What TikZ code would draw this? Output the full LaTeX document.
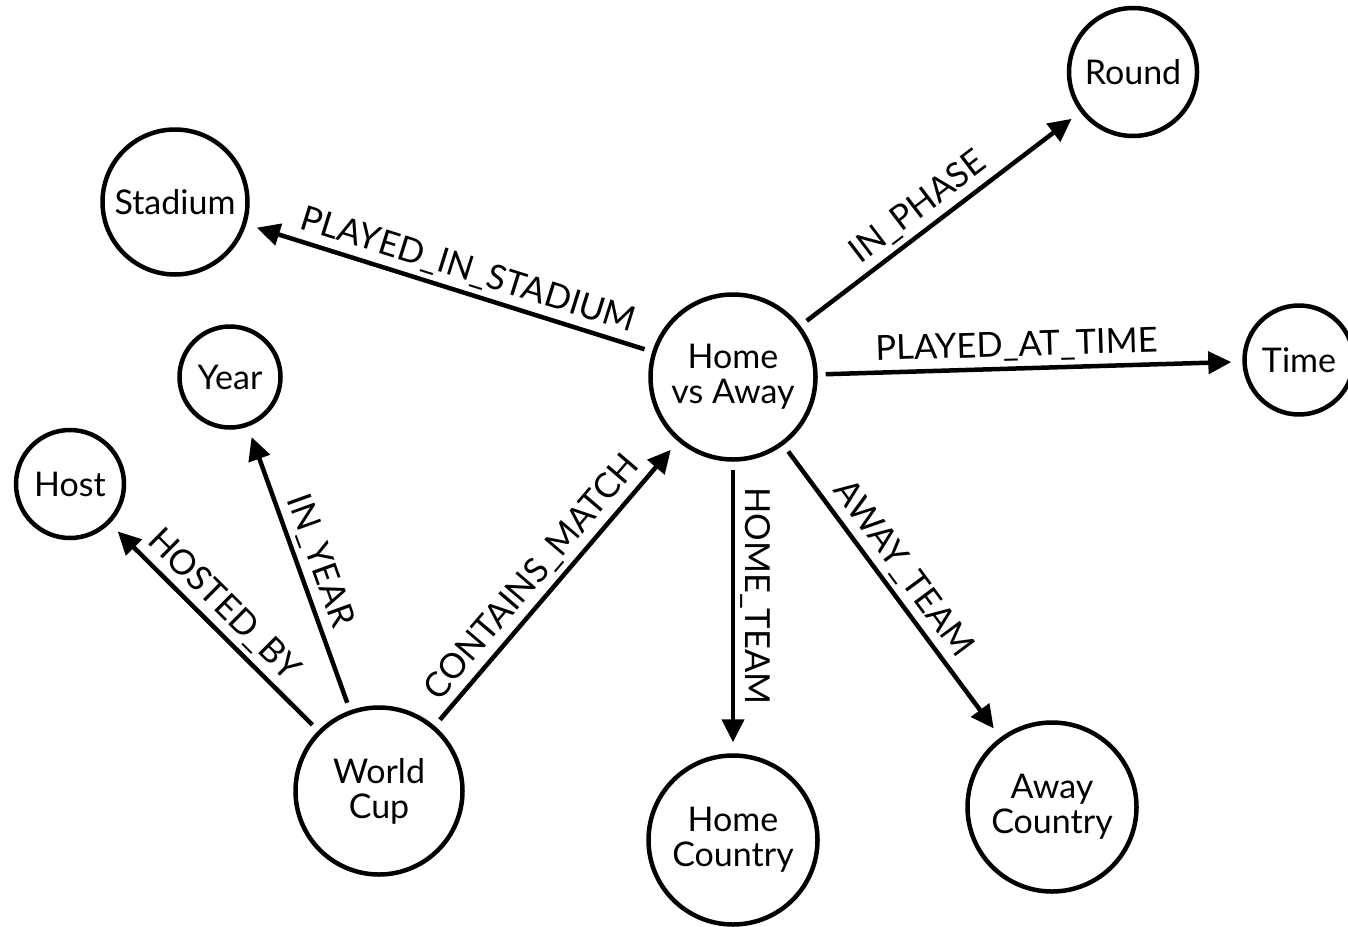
\documentclass[tikz,border=0pt]{standalone}
\usepackage{fontspec}
\setmainfont{Lato}
\usetikzlibrary{arrows.meta}
\begin{document}
\begin{tikzpicture}[x=1pt,y=-1pt,
  nd/.style={circle,draw,line width=4.5pt,inner sep=0pt,align=center,font=\fontsize{34}{35}\selectfont},
  rel/.style={line width=4.5pt,-{Triangle[length=23pt,width=22pt]},shorten <=8pt,shorten >=11pt},
  lbl/.style={sloped,above,font=\fontsize{34.5}{34}\selectfont,inner sep=5pt}]
\useasboundingbox (0,0) rectangle (1348,926);
\node[nd,minimum size=145pt] (stadium) at (175,202) {Stadium};
\node[nd,minimum size=101pt] (year) at (230,377) {Year};
\node[nd,minimum size=108pt] (host) at (70,484) {Host};
\node[nd,minimum size=165pt] (hva) at (733,377) {Home\\vs Away};
\node[nd,minimum size=128pt] (round) at (1133,72) {Round};
\node[nd,minimum size=109pt] (time) at (1299,360) {Time};
\node[nd,minimum size=167pt] (wc) at (379,791) {World\\Cup};
\node[nd,minimum size=169pt] (hc) at (733,840) {Home\\Country};
\node[nd,minimum size=169pt] (ac) at (1052,807) {Away\\Country};

\draw[rel] (hva) -- node[lbl,pos=0.47] {PLAYED\_IN\_STADIUM} (stadium);
\draw[rel] (hva) -- node[lbl,pos=0.47] {IN\_PHASE} (round);
\draw[rel] (hva) -- node[lbl,pos=0.47] {PLAYED\_AT\_TIME} (time);
\draw[rel] (hva) -- node[lbl,pos=0.46] {HOME\_TEAM} (hc);
\draw[rel] (hva) -- node[lbl,pos=0.47] {AWAY\_TEAM} (ac);
\draw[rel] (wc) -- node[lbl,pos=0.47] {CONTAINS\_MATCH} (hva);
\draw[rel] (wc) -- node[lbl,pos=0.5] {IN\_YEAR} (year);
\draw[rel] (wc) -- node[lbl,pos=0.53] {HOSTED\_BY} (host);
\end{tikzpicture}
\end{document}
